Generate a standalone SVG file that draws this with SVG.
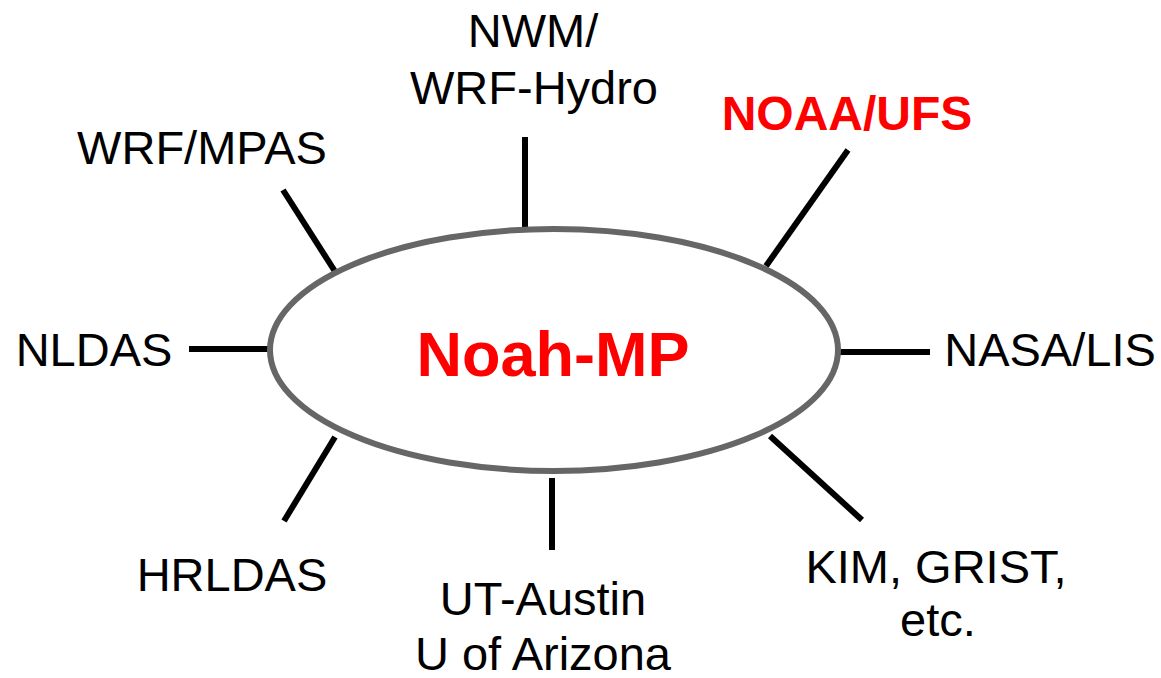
<svg xmlns="http://www.w3.org/2000/svg" width="1161" height="678" viewBox="0 0 1161 678">
<style>
.lbl{font-family:"Liberation Sans",Arial,sans-serif;font-size:47px;fill:#000;text-anchor:middle}
.red{font-weight:bold;fill:#ff0000}
.con line{stroke:#000;stroke-width:6}
</style>
<rect width="1161" height="678" fill="#fff"/>
<g id="connectors" class="con">
<line x1="525" y1="137" x2="525" y2="231"/>
<line x1="848" y1="150" x2="766" y2="266"/>
<line x1="838" y1="352" x2="930" y2="352"/>
<line x1="770" y1="436" x2="862" y2="520"/>
<line x1="552" y1="478" x2="552" y2="550"/>
<line x1="335" y1="437" x2="284" y2="521"/>
<line x1="189" y1="349" x2="271" y2="349"/>
<line x1="283" y1="190" x2="336" y2="273"/>
</g>
<g id="noah-mp">
<ellipse cx="554" cy="350" rx="284" ry="121" fill="#fff" stroke="#666" stroke-width="6"/>
<text class="lbl red" x="553" y="376" style="font-size:63px">Noah-MP</text>
</g>
<g id="nwm"><text class="lbl" x="533" y="47">NWM/</text><text class="lbl" x="534" y="104">WRF-Hydro</text></g>
<g id="wrf-mpas"><text class="lbl" x="202" y="164">WRF/MPAS</text></g>
<g id="noaa-ufs"><text class="lbl red" x="847" y="130" style="font-size:48px">NOAA/UFS</text></g>
<g id="nldas"><text class="lbl" x="94" y="366">NLDAS</text></g>
<g id="nasa-lis"><text class="lbl" x="1050" y="366">NASA/LIS</text></g>
<g id="hrldas"><text class="lbl" x="232" y="591">HRLDAS</text></g>
<g id="ut-austin"><text class="lbl" x="543" y="615">UT-Austin</text><text class="lbl" x="543" y="670">U of Arizona</text></g>
<g id="kim-grist"><text class="lbl" x="936" y="583">KIM, GRIST,</text><text class="lbl" x="938" y="636">etc.</text></g>
</svg>
